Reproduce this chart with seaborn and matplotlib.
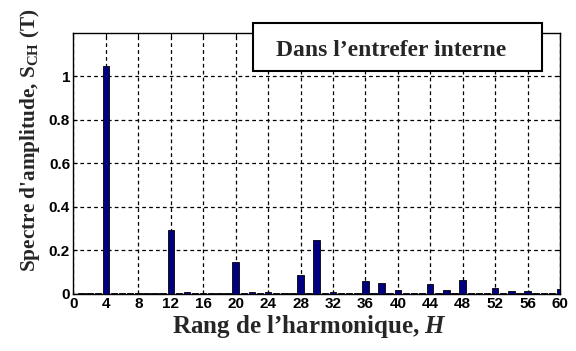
import matplotlib
matplotlib.use("Agg")
import matplotlib.pyplot as plt
from matplotlib.patches import Rectangle
import seaborn as sns
import pandas as pd

# Harmonic ranks and amplitude spectrum values (T)
harmonics = list(range(1, 61))
amplitudes = [
    0.003, 0.003, 0.003, 1.047, 0.003, 0.003, 0.003, 0.003, 0.003, 0.003,
    0.003, 0.293, 0.003, 0.010, 0.003, 0.003, 0.003, 0.003, 0.003, 0.147,
    0.003, 0.010, 0.003, 0.010, 0.003, 0.003, 0.003, 0.086, 0.003, 0.247,
    0.003, 0.008, 0.003, 0.003, 0.003, 0.060, 0.003, 0.049, 0.003, 0.017,
    0.003, 0.003, 0.003, 0.044, 0.003, 0.017, 0.003, 0.064, 0.003, 0.003,
    0.003, 0.029, 0.003, 0.012, 0.003, 0.012, 0.003, 0.003, 0.003, 0.023,
]
x_ticks = list(range(0, 61, 4))
y_ticks = [0, 0.2, 0.4, 0.6, 0.8, 1.0]
y_tick_labels = ["0", "0.2", "0.4", "0.6", "0.8", "1"]

box_text = "Dans l\u2019entrefer interne"
x_label = "Rang de l\u2019harmonique, $H$"
y_label = "Spectre d'amplitude, S$_{\\mathrm{CH}}$ (T)"

sns.set_theme(style="white")
plt.rcParams["font.family"] = ["Liberation Serif", "DejaVu Serif"]
plt.rcParams["mathtext.fontset"] = "custom"
plt.rcParams["mathtext.rm"] = "Liberation Serif:bold"
plt.rcParams["mathtext.it"] = "Liberation Serif:italic:bold"
plt.rcParams["mathtext.bf"] = "Liberation Serif:bold"

df = pd.DataFrame({"H": harmonics, "S": amplitudes})

fig = plt.figure(figsize=(5.76, 3.51), dpi=100)
ax = fig.add_axes([0.1276, 0.1624, 0.9722 - 0.1276, 0.9068 - 0.1624])

sns.barplot(data=df, x="H", y="S", native_scale=True, color="#000080",
            saturation=1, width=0.8, edgecolor="black", linewidth=0.6, ax=ax,
            zorder=3)

ax.set_xlim(0, 60)
ax.set_ylim(0, 1.2)
ax.set_xticks(x_ticks)
ax.set_yticks(y_ticks)
ax.set_yticklabels(y_tick_labels)
ax.set_xlabel("")
ax.set_ylabel("")

for lab in ax.get_xticklabels() + ax.get_yticklabels():
    lab.set_fontfamily(["Liberation Sans Narrow", "Liberation Sans"])
    lab.set_fontweight("bold")
    lab.set_fontsize(11)
    lab.set_color("black")

ax.tick_params(axis="both", direction="in", length=3, width=0.8, color="black",
               pad=2.5, bottom=True, left=True, top=True, right=True)
ax.grid(True, color="black", linestyle=(0, (3, 2.5)), linewidth=0.9, zorder=1)
for sp in ax.spines.values():
    sp.set_color("black")
    sp.set_linewidth(1.0)

# Annotation box overlapping the top of the axes
fig.add_artist(Rectangle((253 / 576, 1 - 71 / 351), 289 / 576, 47.7 / 351,
                         transform=fig.transFigure, facecolor="white",
                         edgecolor="black", linewidth=1.5, zorder=10))
fig.text(397.5 / 576 - 6 / 576, 1 - 55.5 / 351, box_text, ha="center",
         va="baseline", fontsize=17, fontweight="bold", zorder=11)

fig.text(309 / 576, 1 - 333 / 351, x_label, ha="center", va="baseline",
         fontsize=18, fontweight="bold")
fig.text(30 / 576, 1 - 140 / 351, y_label, ha="center", va="center",
         rotation=90, fontsize=15.3, fontweight="bold")

fig.savefig("out.png", dpi=100)
